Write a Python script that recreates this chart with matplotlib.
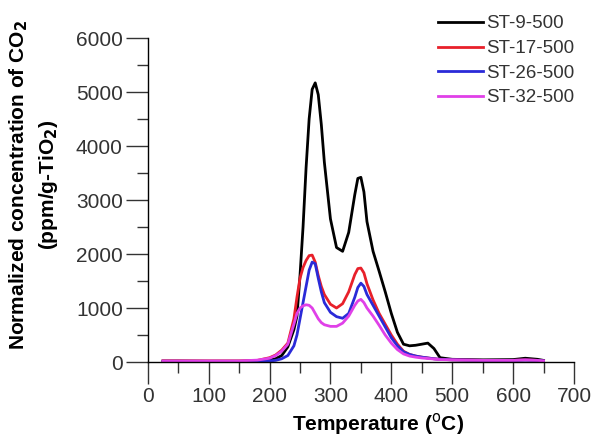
import numpy as np
import matplotlib.pyplot as plt
from matplotlib.ticker import MultipleLocator

plt.rcParams['font.family'] = ['Liberation Sans', 'DejaVu Sans']

temp = [25, 50, 100, 150, 180, 200, 210, 220, 230, 240, 245, 250, 255, 260, 265,
        270, 275, 280, 285, 290, 300, 310, 320, 330, 340, 345, 350, 355, 360, 370,
        380, 390, 400, 410, 420, 430, 440, 450, 460, 470, 480, 500, 550, 600, 620,
        640, 650]

st9 = [20, 20, 15, 15, 20, 40, 60, 120, 280, 600, 850, 1600, 2500, 3600, 4500,
       5050, 5170, 4950, 4400, 3700, 2650, 2120, 2050, 2400, 3100, 3400, 3420, 3150, 2600, 2050,
       1680, 1300, 900, 550, 330, 300, 310, 330, 350, 250, 80, 50, 40, 45, 70,
       50, 30]
st17 = [20, 20, 20, 20, 30, 80, 130, 220, 350, 800, 1200, 1550, 1750, 1880, 1970,
        1980, 1850, 1600, 1400, 1250, 1070, 1000, 1080, 1300, 1620, 1730, 1740, 1650, 1450, 1150,
        900, 700, 500, 330, 200, 140, 110, 90, 75, 60, 50, 40, 30, 30, 40,
        30, 20]
st26 = [10, 10, 10, 10, 15, 20, 30, 60, 120, 300, 500, 800, 1100, 1400, 1700,
        1850, 1820, 1550, 1300, 1100, 920, 840, 810, 900, 1200, 1380, 1460, 1400, 1250, 1050,
        850, 650, 450, 300, 190, 140, 110, 90, 75, 60, 50, 40, 30, 30, 35,
        30, 20]
st32 = [20, 20, 20, 20, 35, 70, 120, 200, 330, 700, 900, 1000, 1040, 1060, 1050,
        1000, 900, 800, 730, 690, 660, 660, 720, 850, 1050, 1130, 1160, 1100, 1000, 850,
        680, 500, 350, 230, 150, 110, 90, 75, 65, 55, 45, 40, 30, 30, 40,
        30, 20]

labels = ['ST-9-500', 'ST-17-500', 'ST-26-500', 'ST-32-500']
colors = ['black', '#e8202a', '#2a2ad8', '#e040e8']

fig = plt.figure(figsize=(5.96, 4.37), dpi=100)
ax = fig.add_axes([0.248, 0.1716, 0.715, 0.7414])

for y, lab, c in zip([st9, st17, st26, st32], labels, colors):
    ax.plot(temp, y, color=c, lw=2.0, label=lab)

ax.set_xlim(0, 700)
ax.set_ylim(0, 6000)
ax.xaxis.set_major_locator(MultipleLocator(100))
ax.xaxis.set_minor_locator(MultipleLocator(50))
ax.yaxis.set_major_locator(MultipleLocator(1000))
ax.yaxis.set_minor_locator(MultipleLocator(500))
for s in ['top', 'right']:
    ax.spines[s].set_visible(False)
for s in ['left', 'bottom']:
    ax.spines[s].set_linewidth(1.0)
ax.tick_params(which='major', direction='out', length=16, width=1.0,
               labelsize=15, colors='#333333', pad=2)
ax.tick_params(which='minor', direction='out', length=8, width=1.0, colors='#333333')

ax.set_xlabel('Temperature ($^{\\mathrm{o}}$C)', fontsize=15, fontweight='bold')
ax.xaxis.set_label_coords(0.54, -0.15)
ax.set_ylabel('Normalized concentration of CO$_\\mathbf{2}$\n(ppm/g-TiO$_\\mathbf{2}$)',
              fontsize=15, fontweight='bold', linespacing=1.45)
ax.yaxis.set_label_coords(-0.205, 0.546)

leg = ax.legend(loc='upper left', frameon=False, fontsize=13.5, handlelength=2.4,
                handletextpad=0.2, labelspacing=0.4, borderaxespad=0)
leg.set_bbox_to_anchor((0.722, 0.982), transform=fig.transFigure)
for t in leg.get_texts():
    t.set_color('#333333')

fig.savefig('out.png', dpi=100)
